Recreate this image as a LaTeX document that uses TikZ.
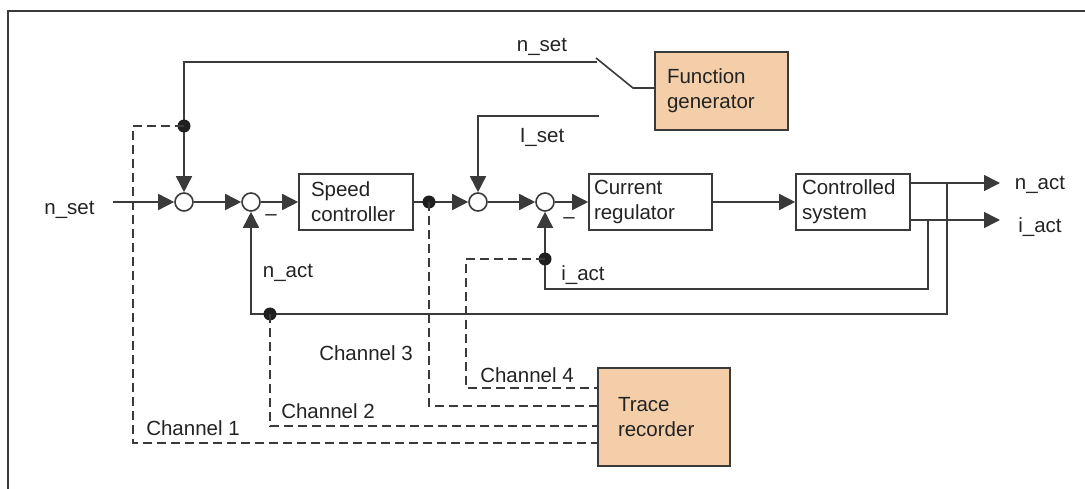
\documentclass[tikz,border=0pt]{standalone}
\usepackage{fontspec}
\setmainfont{Liberation Sans}
\usetikzlibrary{arrows.meta}

\begin{document}
\begin{tikzpicture}[x=1pt,y=-1pt,line width=1.6pt,
  sumpt/.style={circle,draw=diagln,fill=white,minimum size=18pt,inner sep=0pt},
  blk/.style={draw=diagln,minimum height=56pt,align=left,inner ysep=0pt,font=\fdia,text=diagtx},
  tap/.style={circle,fill=black!88,minimum size=13pt,inner sep=0pt},
  lbl/.style={anchor=base,inner sep=0pt,font=\fdia,text=diagtx},
  sig/.style={draw=diagln,-{Triangle[length=16pt,width=16pt]}},
  chan/.style={draw=diagln,dash pattern=on 9pt off 5pt,line width=1.4pt}]
\definecolor{diagln}{RGB}{58,58,58}
\definecolor{diagtx}{RGB}{35,35,35}
\definecolor{diagpeach}{RGB}{243,206,169}
\providecommand{\fdia}{\fontsize{20.5}{25}\selectfont}
\useasboundingbox (0,0) rectangle (1085,489);
\draw[diagln] (8,489) -- (8,11) -- (1085,11);
% blocks
\node[blk,fill=white,text width=90pt,inner xsep=12pt] (spd) at (356,202) {Speed\\controller};
\node[blk,fill=white,text width=113pt,inner xsep=5pt] (cur) at (650.5,202) {Current\\regulator};
\node[blk,fill=white,text width=102pt,inner xsep=6pt] (sys) at (853,202) {Controlled\\system};
\node[blk,fill=diagpeach,text width=109pt,inner xsep=12pt,minimum height=78pt] (fgen) at (721.5,91) {Function\\generator};
% summing points
\node[sumpt] (s1) at (184,202) {};
\node[sumpt] (s2) at (251,202) {};
\node[sumpt] (s3) at (478,202) {};
\node[sumpt] (s4) at (545,202) {};
% free ends
\coordinate (nin) at (113,202);
\coordinate (swA) at (597,62);
\coordinate (swB) at (596,58);
\coordinate (swC) at (633,88);
\coordinate (iset) at (599,116);
\coordinate (nout) at (1000,183);
\coordinate (iout) at (1000,220);
\coordinate (fbn) at (947,183);
\coordinate (nfb) at (947,314);
\coordinate (fbi) at (928,220);
\coordinate (ifb) at (928,289);
% forward path
\draw[sig] (nin) -- (s1);
\draw[sig] (swA) -| (s1);
\draw[diagln] (swB) -- (swC) -- (swC -| fgen.west);
\draw[sig] (s1) -- (s2);
\draw[sig] (s2) -- (spd);
\draw[sig] (spd) -- (s3);
\draw[sig] (iset) -| (s3);
\draw[sig] (s3) -- (s4);
\draw[sig] (s4) -- (cur);
\draw[sig] (cur) -- (sys);
\draw[sig] (sys.east |- nout) -- (nout);
\draw[sig] (sys.east |- iout) -- (iout);
% feedback
\draw[sig] (fbn) -- (nfb) -| (s2);
\draw[sig] (fbi) -- (ifb) -| (s4);
% taps
\node[tap] (t1) at (184,126) {};
\node[tap] (t2) at (429,202) {};
\node[tap] (t3) at (270,314) {};
\node[tap] (t4) at (545,259) {};
% trace channels
\coordinate (k1) at (133,443);
\coordinate (k4) at (466,388);
\coordinate (ch1) at (598,443);
\coordinate (ch2) at (598,426);
\coordinate (ch3) at (598,406);
\coordinate (ch4) at (598,388);
\draw[chan] (t1.center) -| (k1) -- (ch1);
\draw[chan] (t3.center) |- (ch2);
\draw[chan] (t2.center) |- (ch3);
\draw[chan] (t4.center) -| (k4) -- (ch4);
\node[blk,fill=diagpeach,text width=92pt,inner xsep=20pt,minimum height=98pt] (rec) at (664,417) {Trace\\recorder};
% labels
\node[lbl] (lnset) at (69.5,215) {n\_set};
\node[lbl] (lfgset) at (542,52) {n\_set};
\node[lbl] (liset) at (542,143) {I\_set};
\node[lbl] (lnfb) at (288,278) {n\_act};
\node[lbl] (lifb) at (583,280) {i\_act};
\node[lbl] (lnout) at (1040,190) {n\_act};
\node[lbl] (liout) at (1040,233) {i\_act};
\node[lbl] (lch1) at (193,435) {Channel 1};
\node[lbl] (lch2) at (328,418) {Channel 2};
\node[lbl] (lch3) at (366,360) {Channel 3};
\node[lbl] (lch4) at (527,382) {Channel 4};
\node[lbl] (mn2) at (271,220.5) {–};
\node[lbl] (mn4) at (569,223.5) {–};
\end{tikzpicture}
\end{document}
